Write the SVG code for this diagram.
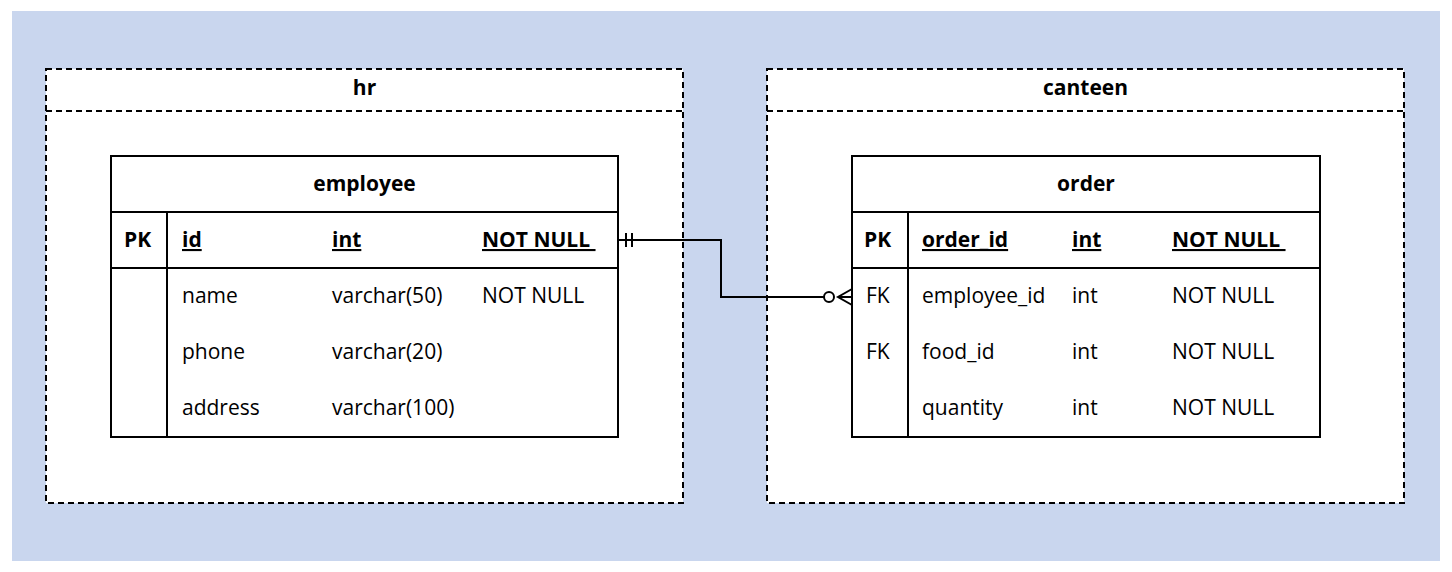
<svg xmlns="http://www.w3.org/2000/svg" width="1452" height="572" viewBox="0 0 1452 572">
<style>
text{font-family:"Open Sans","Noto Sans",sans-serif;font-size:21px;fill:#000}
.b{font-weight:bold}
.u{text-decoration:underline}
.m{text-anchor:middle}
.sch{fill:#fff;stroke:#000;stroke-width:2;stroke-dasharray:6,4}
.tbl{fill:#fff;stroke:#000;stroke-width:2}
.ln{stroke:#000;stroke-width:2;fill:none}
</style>
<rect x="12" y="11" width="1428" height="550" fill="#c9d6ee"/>
<g id="hr">
<rect class="sch" x="46" y="69" width="637" height="434"/>
<line class="sch" x1="46" y1="111" x2="683" y2="111"/>
<text class="b m" x="364.5" y="95">hr</text>
</g>
<g id="canteen">
<rect class="sch" x="767" y="69" width="637" height="434"/>
<line class="sch" x1="767" y1="111" x2="1404" y2="111"/>
<text class="b m" x="1085.5" y="95">canteen</text>
</g>
<g id="employee">
<rect class="tbl" x="111" y="156" width="507" height="281"/>
<line class="ln" x1="111" y1="212" x2="618" y2="212"/>
<line class="ln" x1="111" y1="268" x2="618" y2="268"/>
<line class="ln" x1="167" y1="212" x2="167" y2="437"/>
<text class="b m" x="364.5" y="191">employee</text>
<text class="b" x="124" y="247">PK</text>
<text class="b u" x="182" y="247">id</text>
<text class="b u" x="332" y="247">int</text>
<text class="b u" x="482" y="247" xml:space="preserve">NOT NULL </text>
<text x="182" y="303">name</text><text x="332" y="303">varchar(50)</text><text x="482" y="303">NOT NULL</text>
<text x="182" y="359">phone</text><text x="332" y="359">varchar(20)</text>
<text x="182" y="415">address</text><text x="332" y="415">varchar(100)</text>
</g>
<g id="order">
<rect class="tbl" x="852" y="156" width="468" height="281"/>
<line class="ln" x1="852" y1="212" x2="1320" y2="212"/>
<line class="ln" x1="852" y1="268" x2="1320" y2="268"/>
<line class="ln" x1="908" y1="212" x2="908" y2="437"/>
<text class="b m" x="1086" y="191">order</text>
<text class="b" x="864" y="247">PK</text>
<text class="b u" x="922" y="247">order_id</text>
<text class="b u" x="1072" y="247">int</text>
<text class="b u" x="1172" y="247" xml:space="preserve">NOT NULL </text>
<text x="866" y="303">FK</text><text x="922" y="303">employee_id</text><text x="1072" y="303">int</text><text x="1172" y="303">NOT NULL</text>
<text x="866" y="359">FK</text><text x="922" y="359">food_id</text><text x="1072" y="359">int</text><text x="1172" y="359">NOT NULL</text>
<text x="922" y="415">quantity</text><text x="1072" y="415">int</text><text x="1172" y="415">NOT NULL</text>
</g>
<g id="connectors">
<polyline class="ln" points="618,240 721,240 721,297 834,297"/>
<line class="ln" x1="626" y1="233" x2="626" y2="247"/>
<line class="ln" x1="632" y1="233" x2="632" y2="247"/>
<circle cx="829" cy="297" r="5" fill="#fff" stroke="#000" stroke-width="2"/>
<polyline class="ln" points="852,289 838,297 852,305"/>
<line class="ln" x1="838" y1="297" x2="852" y2="297"/>
</g>
</svg>
